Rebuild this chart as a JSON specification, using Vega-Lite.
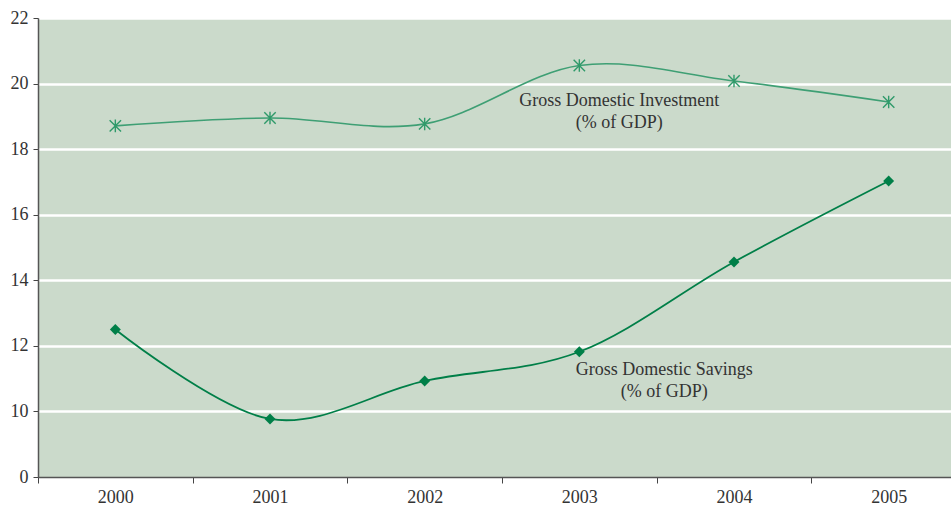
{
  "$schema": "https://vega.github.io/schema/vega-lite/v6.json",
  "width": 928,
  "height": 459,
  "autosize": "none",
  "padding": {"left": 38, "top": 18, "right": 0, "bottom": 28},
  "background": "white",
  "config": {
    "view": {"fill": "#cbdacb", "stroke": null},
    "font": "Liberation Serif"
  },
  "datasets": {
    "series": [
      {"year": "2000", "series": "Savings", "value": 12.5},
      {"year": "2001", "series": "Savings", "value": 9.77},
      {"year": "2002", "series": "Savings", "value": 10.93},
      {"year": "2003", "series": "Savings", "value": 11.82},
      {"year": "2004", "series": "Savings", "value": 14.56},
      {"year": "2005", "series": "Savings", "value": 17.03},
      {"year": "2000", "series": "Investment", "value": 18.71},
      {"year": "2001", "series": "Investment", "value": 18.95},
      {"year": "2002", "series": "Investment", "value": 18.77},
      {"year": "2003", "series": "Investment", "value": 20.55},
      {"year": "2004", "series": "Investment", "value": 20.08},
      {"year": "2005", "series": "Investment", "value": 19.44}
    ],
    "labels": [
      {"year": "2003", "series": "Investment", "value": 19.47, "text": "Gross Domestic Investment\n(% of GDP)"},
      {"year": "2003", "series": "Savings", "value": 11.27, "text": "Gross Domestic Savings\n(% of GDP)"}
    ]
  },
  "encoding": {
    "x": {
      "field": "year",
      "type": "nominal",
      "scale": {"type": "band", "paddingInner": 0, "paddingOuter": 0},
      "axis": {
        "title": null,
        "labelAngle": 0,
        "tickBand": "extent",
        "domainColor": "#555555",
        "domainWidth": 1.5,
        "tickColor": "#444444",
        "tickSize": 6,
        "labelFontSize": 18,
        "labelColor": "#333333",
        "labelPadding": 5,
        "grid": false
      }
    },
    "y": {
      "field": "value",
      "type": "quantitative",
      "scale": {"domain": [8, 22], "nice": false, "zero": false},
      "axis": {
        "title": null,
        "values": [8, 10, 12, 14, 16, 18, 20, 22],
        "labelExpr": "datum.value == 8 ? '0' : datum.label",
        "domainColor": "#555555",
        "domainWidth": 1.5,
        "tickColor": "#444444",
        "tickSize": 5,
        "labelFontSize": 18,
        "labelColor": "#333333",
        "labelPadding": 5,
        "grid": true,
        "gridColor": {"condition": {"test": "datum.value == 8", "value": null}, "value": "white"},
        "gridWidth": 2.5
      }
    }
  },
  "layer": [
    {
      "data": {"name": "series"},
      "transform": [{"filter": "datum.series == 'Investment'"}],
      "mark": {"type": "line", "interpolate": "cardinal", "tension": 0, "color": "#3e9f74", "strokeWidth": 1.6}
    },
    {
      "data": {"name": "series"},
      "transform": [{"filter": "datum.series == 'Investment'"}],
      "mark": {"type": "point", "shape": "M-1,-1L1,1M-1,1L1,-1M0,-1.1L0,1.1", "filled": false, "stroke": "#2f9a6a", "strokeWidth": 1.4, "size": 130, "opacity": 1}
    },
    {
      "data": {"name": "series"},
      "transform": [{"filter": "datum.series == 'Savings'"}],
      "mark": {"type": "line", "interpolate": "cardinal", "tension": 0, "color": "#007f48", "strokeWidth": 1.8}
    },
    {
      "data": {"name": "series"},
      "transform": [{"filter": "datum.series == 'Savings'"}],
      "mark": {"type": "point", "shape": "diamond", "filled": true, "color": "#007f48", "size": 120, "opacity": 1}
    },
    {
      "data": {"name": "labels"},
      "transform": [{"filter": "datum.series == 'Investment'"}],
      "mark": {"type": "text", "dx": 40, "align": "center", "baseline": "middle", "lineBreak": "\n", "lineHeight": 22, "fontSize": 18, "color": "#333333"},
      "encoding": {"text": {"field": "text"}}
    },
    {
      "data": {"name": "labels"},
      "transform": [{"filter": "datum.series == 'Savings'"}],
      "mark": {"type": "text", "dx": 85, "align": "center", "baseline": "middle", "lineBreak": "\n", "lineHeight": 22, "fontSize": 18, "color": "#333333"},
      "encoding": {"text": {"field": "text"}}
    }
  ]
}
